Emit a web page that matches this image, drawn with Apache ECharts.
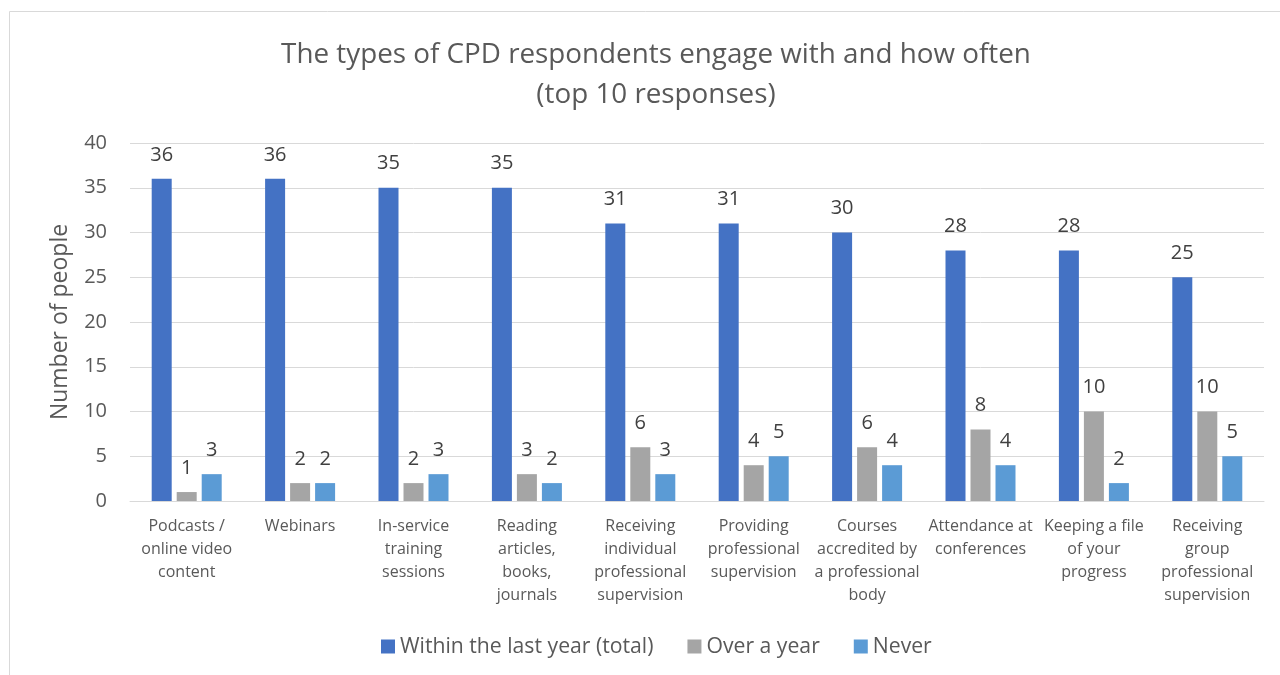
<!DOCTYPE html>
<html>
<head>
<meta charset="utf-8">
<script src="https://cdn.jsdelivr.net/npm/echarts@6/dist/echarts.min.js"></script>
<style>
  html, body { margin: 0; padding: 0; background: #fff; }
  #chart { width: 1280px; height: 675px; }
</style>
</head>
<body>
<div id="chart"></div>
<script>
// CPD activity categories (line breaks as shown under the axis)
const categories = [
  'Podcasts /\nonline video\ncontent',
  'Webinars',
  'In-service\ntraining\nsessions',
  'Reading\narticles,\nbooks,\njournals',
  'Receiving\nindividual\nprofessional\nsupervision',
  'Providing\nprofessional\nsupervision',
  'Courses\naccredited by\na professional\nbody',
  'Attendance at\nconferences',
  'Keeping a file\nof your\nprogress',
  'Receiving\ngroup\nprofessional\nsupervision'
];

const seriesNames = ['Within the last year (total)', 'Over a year', 'Never'];
const withinLastYear = [36, 36, 35, 35, 31, 31, 30, 28, 28, 25];
const overAYear = [1, 2, 2, 3, 6, 4, 6, 8, 10, 10];
const never = [3, 2, 3, 2, 3, 5, 4, 4, 2, 5];

const yTicks = { min: 0, max: 40, interval: 5 };

const colors = ['#4472C4', '#A5A5A5', '#5B9BD5'];
const font = 'Open Sans, Noto Sans, sans-serif';

const chart = echarts.init(document.getElementById('chart'));

function barSeries(name, data, color) {
  return {
    name: name,
    type: 'bar',
    data: data,
    barWidth: 20,
    barGap: '25%',
    itemStyle: { color: color },
    label: {
      show: true,
      position: 'top',
      distance: 14,
      color: '#404040',
      fontFamily: font,
      fontSize: 20
    }
  };
}

chart.setOption({
  animation: false,
  textStyle: { fontFamily: font },
  graphic: [{
    type: 'rect',
    shape: { x: 9.5, y: 11.5, width: 1290, height: 700 },
    style: { fill: 'none', stroke: '#D9D9D9', lineWidth: 1 },
    silent: true
  }],
  title: {
    text: 'The types of CPD respondents engage with and how often\n(top 10 responses)',
    left: 651,
    textAlign: 'center',
    top: 30,
    textStyle: {
      fontFamily: font,
      fontSize: 27.8,
      fontWeight: 'normal',
      color: '#595959',
      lineHeight: 40
    }
  },
  legend: {
    data: seriesNames,
    top: 631,
    left: 376,
    itemWidth: 14,
    itemHeight: 14,
    itemGap: 34,
    icon: 'rect',
    textStyle: { fontFamily: font, fontSize: 21.2, color: '#595959' }
  },
  grid: { left: 130, right: 16, top: 143, bottom: 174, containLabel: false },
  xAxis: {
    type: 'category',
    data: categories,
    axisLine: { lineStyle: { color: '#D9D9D9', width: 1 } },
    axisTick: { show: false },
    axisLabel: {
      interval: 0,
      color: '#595959',
      fontFamily: font,
      fontSize: 16,
      lineHeight: 23,
      margin: 14,
      align: 'center'
    }
  },
  yAxis: {
    type: 'value',
    min: yTicks.min,
    max: yTicks.max,
    interval: yTicks.interval,
    name: 'Number of people',
    nameLocation: 'middle',
    nameRotate: 90,
    nameGap: 58,
    nameTextStyle: { fontFamily: font, fontSize: 23, color: '#595959' },
    axisLine: { show: false },
    axisTick: { show: false },
    splitLine: { lineStyle: { color: '#D9D9D9', width: 1 } },
    axisLabel: { color: '#595959', fontFamily: font, fontSize: 20, margin: 23 }
  },
  series: [
    barSeries(seriesNames[0], withinLastYear, colors[0]),
    barSeries(seriesNames[1], overAYear, colors[1]),
    barSeries(seriesNames[2], never, colors[2])
  ]
});
</script>
</body>
</html>
